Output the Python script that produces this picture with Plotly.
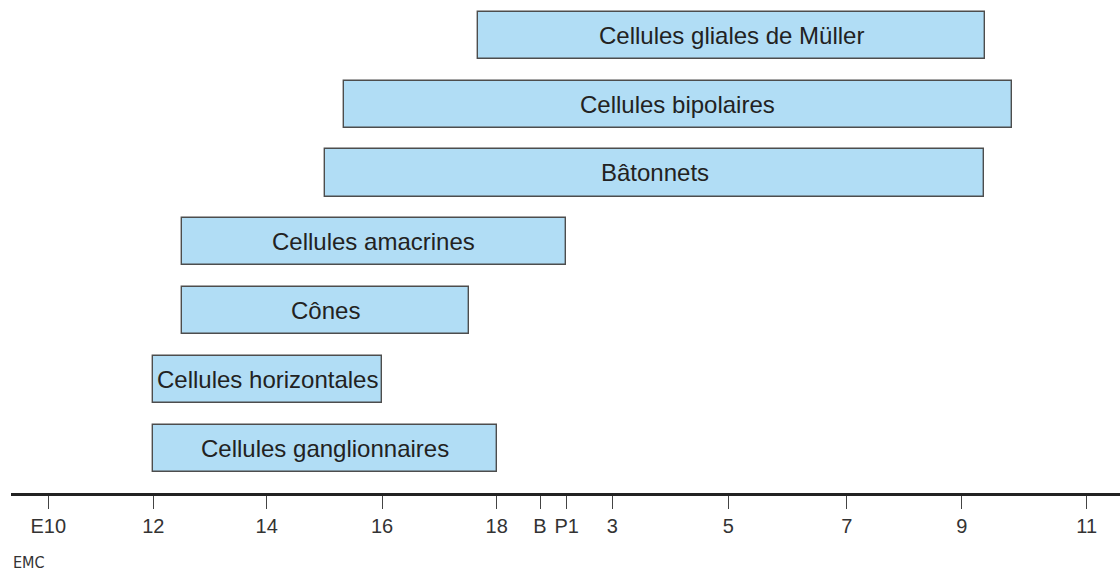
import plotly.graph_objects as go

# Axis (irregular developmental timeline), values in axis units
tick_labels = ["E10", "12", "14", "16", "18", "B", "P1", "3", "5", "7", "9", "11"]
tick_vals = [48.3, 153.3, 266.7, 382, 496.7, 540, 566.7, 612.3, 728.3, 846.7, 961.7, 1086.7]

# Cell types (bottom to top) and their generation windows
cell_types = ["Cellules ganglionnaires", "Cellules horizontales", "Cônes",
              "Cellules amacrines", "Bâtonnets", "Cellules bipolaires",
              "Cellules gliales de Müller"]
start = [153.3, 153.3, 181.5, 181.5, 325, 344, 477.7]
end = [496.7, 382, 469, 566, 984, 1011.7, 985]

rows = list(range(len(cell_types)))
widths = [e - s for s, e in zip(start, end)]
centers = [(s + e) / 2 for s, e in zip(start, end)]

fig = go.Figure()
fig.add_trace(go.Bar(
    y=rows, x=widths, base=start, orientation="h",
    width=0.685,
    marker=dict(color="#b1ddf5", line=dict(color="#4d4d4d", width=1.4)),
    hoverinfo="skip", showlegend=False,
))

for r, c, name in zip(rows, centers, cell_types):
    fig.add_annotation(x=c, y=r, text=name, showarrow=False,
                       font=dict(family="Liberation Sans, Arial", size=24, color="#222"),
                       xanchor="center", yanchor="middle")

fig.add_annotation(xref="paper", yref="paper", x=0.0, y=-0.14, text="EMC",
                   showarrow=False, xanchor="left", yanchor="middle",
                   font=dict(family="DejaVu Sans Condensed, Liberation Sans Narrow", size=16, color="#333"))

fig.update_layout(
    width=1120, height=577,
    margin=dict(l=11, r=0, t=0, b=84),
    plot_bgcolor="white", paper_bgcolor="white",
    bargap=0,
    xaxis=dict(range=[11, 1120], tickmode="array", tickvals=tick_vals, ticktext=tick_labels,
               showgrid=False, zeroline=False, showline=True, linecolor="#222", linewidth=3,
               ticks="outside", ticklen=13, tickwidth=1.2, tickcolor="#444",
               tickfont=dict(family="Liberation Sans, Arial", size=20, color="#333")),
    yaxis=dict(range=[-0.65, 6.513], showgrid=False, zeroline=False, showline=False,
               showticklabels=False, ticks=""),
)

fig.write_html("out.html", config={"displayModeBar": False},
               post_script="document.body.style.margin='0';document.body.style.overflow='hidden';")
